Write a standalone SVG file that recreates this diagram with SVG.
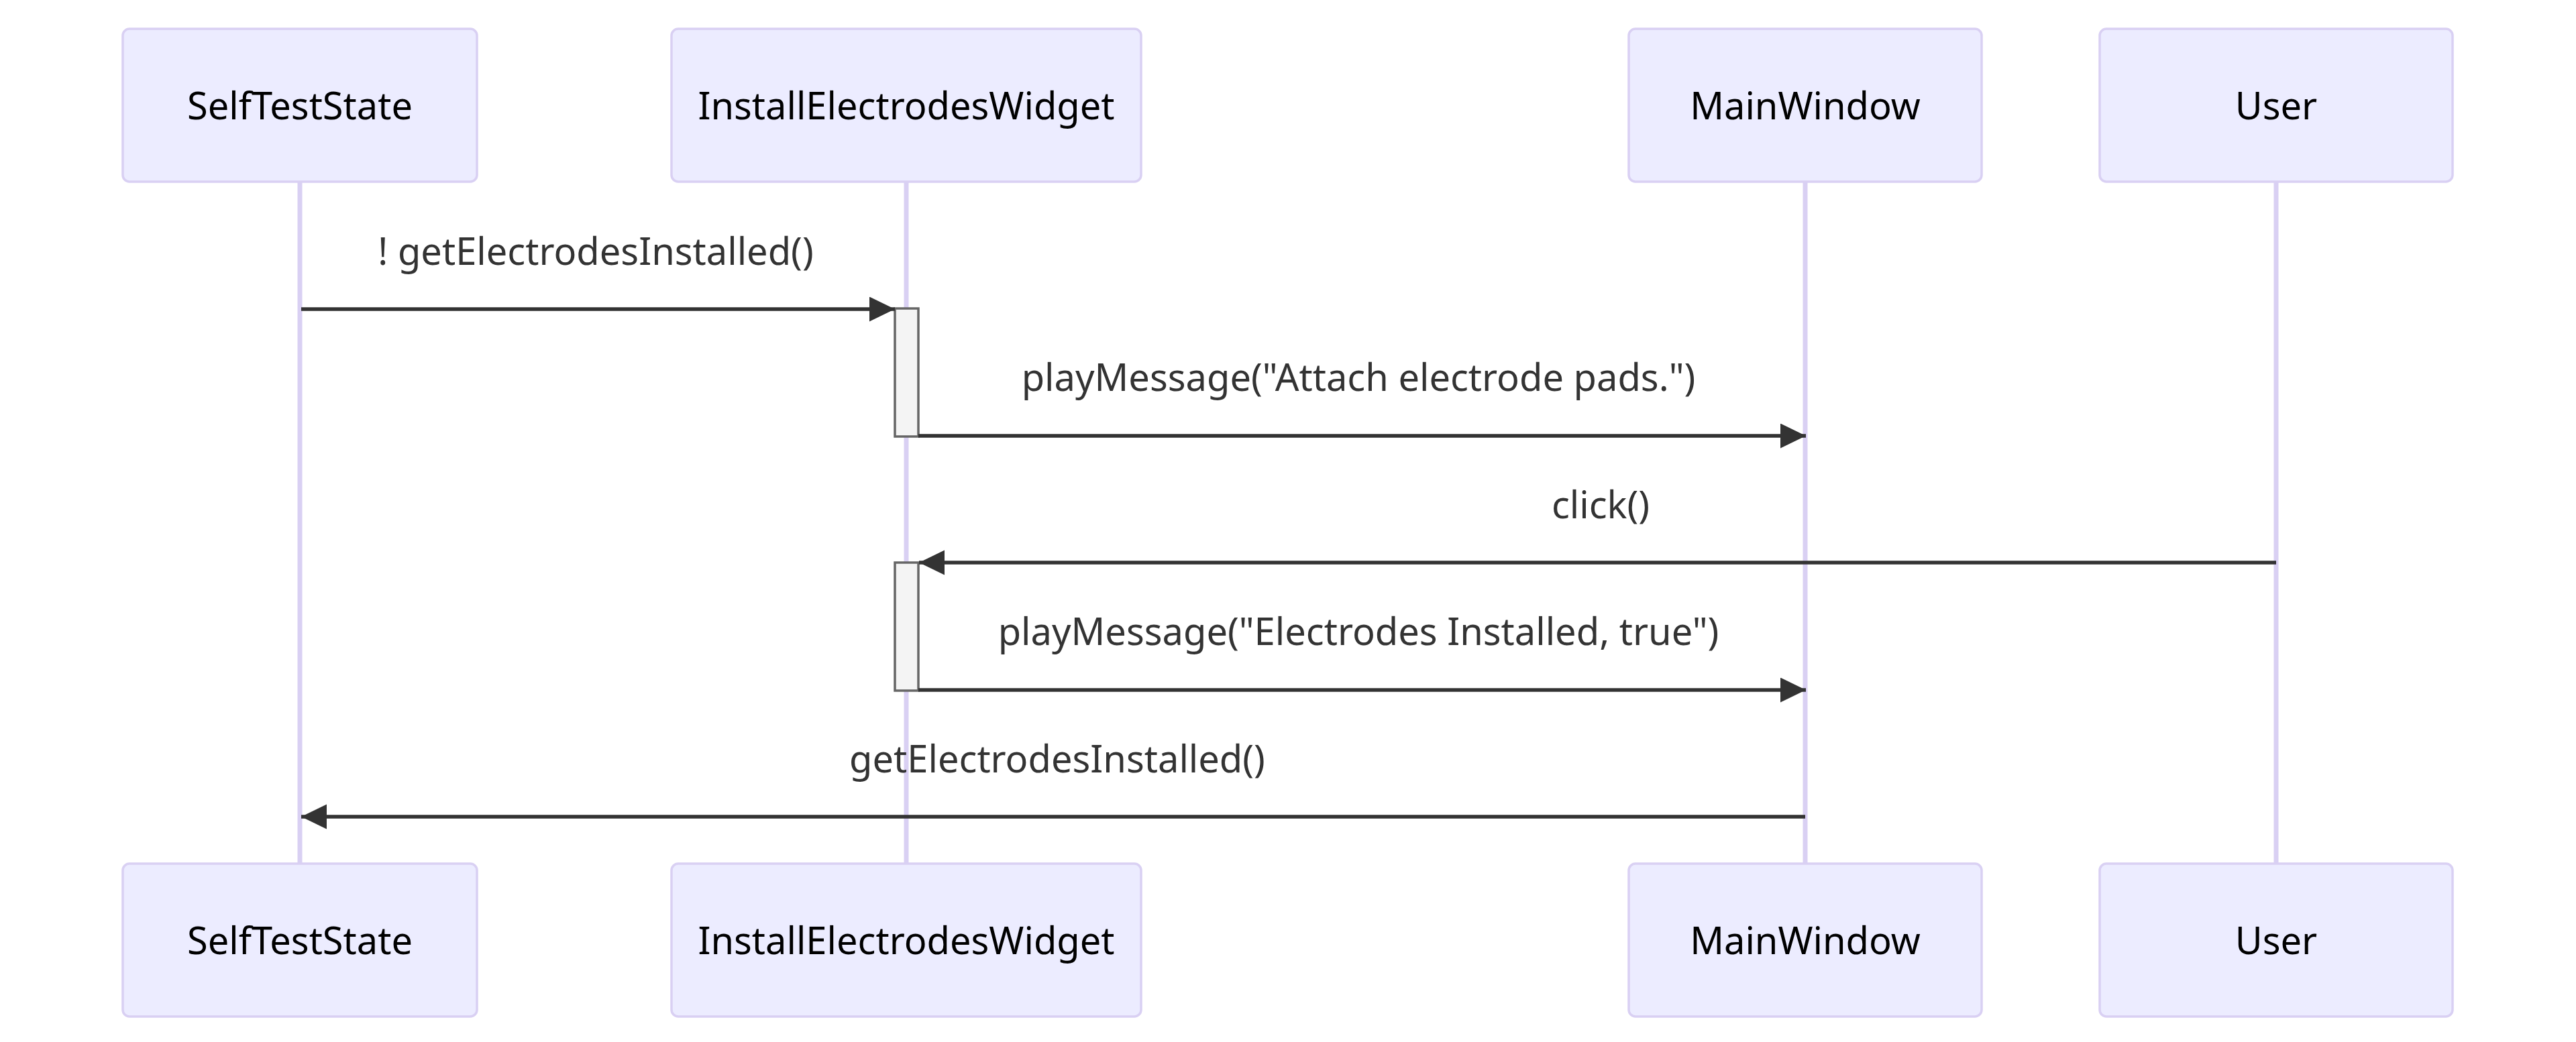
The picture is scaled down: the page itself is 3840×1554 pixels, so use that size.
<svg xmlns="http://www.w3.org/2000/svg" width="3840" height="1554" viewBox="0 0 3840 1554">
<style>
.actor{fill:#ECECFF;stroke:#D9D0F3;stroke-width:3.5}
.atext{font-family:"Noto Sans","Open Sans","Liberation Sans",sans-serif;font-size:56px;fill:#000;text-anchor:middle}
.life{stroke:#D9D0F3;stroke-width:7}
.msg{stroke:#333;stroke-width:5.5;fill:none;marker-end:url(#arrow)}
.mtext{font-family:"Noto Sans","Open Sans","Liberation Sans",sans-serif;font-size:56px;fill:#333;text-anchor:middle}
.act{fill:#F4F4F4;stroke:#666;stroke-width:3.5}
</style>
<defs>
<marker id="arrow" markerUnits="userSpaceOnUse" markerWidth="40" markerHeight="40" refX="38" refY="18.5" orient="auto">
<path d="M0,0 L38,18.5 L0,37 z" fill="#333"/>
</marker>
</defs>
<rect width="3840" height="1554" fill="#fff"/>
<g id="lifelines">
<line class="life" x1="447" y1="271" x2="447" y2="1288"/>
<line class="life" x1="1351" y1="271" x2="1351" y2="1288"/>
<line class="life" x1="2691" y1="271" x2="2691" y2="1288"/>
<line class="life" x1="3393" y1="271" x2="3393" y2="1288"/>
</g>
<g id="SelfTestState">
<rect class="actor" x="183" y="43" width="528" height="228" rx="10"/>
<text class="atext" x="447" y="178">SelfTestState</text>
</g>
<g id="InstallElectrodesWidget">
<rect class="actor" x="1001" y="43" width="700" height="228" rx="10"/>
<text class="atext" x="1351" y="178">InstallElectrodesWidget</text>
</g>
<g id="MainWindow">
<rect class="actor" x="2428" y="43" width="526" height="228" rx="10"/>
<text class="atext" x="2691" y="178">MainWindow</text>
</g>
<g id="User">
<rect class="actor" x="3130" y="43" width="526" height="228" rx="10"/>
<text class="atext" x="3393" y="178">User</text>
</g>
<g id="SelfTestState-bottom">
<rect class="actor" x="183" y="1288" width="528" height="228" rx="10"/>
<text class="atext" x="447" y="1423">SelfTestState</text>
</g>
<g id="InstallElectrodesWidget-bottom">
<rect class="actor" x="1001" y="1288" width="700" height="228" rx="10"/>
<text class="atext" x="1351" y="1423">InstallElectrodesWidget</text>
</g>
<g id="MainWindow-bottom">
<rect class="actor" x="2428" y="1288" width="526" height="228" rx="10"/>
<text class="atext" x="2691" y="1423">MainWindow</text>
</g>
<g id="User-bottom">
<rect class="actor" x="3130" y="1288" width="526" height="228" rx="10"/>
<text class="atext" x="3393" y="1423">User</text>
</g>
<g id="activations">
<rect class="act" x="1334" y="460" width="35" height="191"/>
<rect class="act" x="1334" y="839" width="35" height="191"/>
</g>
<g id="connectors">
<line class="msg" x1="449" y1="461" x2="1334" y2="461"/>
<text class="mtext" x="888" y="395">! getElectrodesInstalled()</text>
<line class="msg" x1="1369" y1="650" x2="2692" y2="650"/>
<text class="mtext" x="2025" y="583">playMessage("Attach electrode pads.")</text>
<line class="msg" x1="3393" y1="839" x2="1370" y2="839"/>
<text class="mtext" x="2386" y="773">click()</text>
<line class="msg" x1="1369" y1="1029" x2="2692" y2="1029"/>
<text class="mtext" x="2025" y="962">playMessage("Electrodes Installed, true")</text>
<line class="msg" x1="2691" y1="1218" x2="449" y2="1218"/>
<text class="mtext" x="1576" y="1152">getElectrodesInstalled()</text>
</g>
</svg>
